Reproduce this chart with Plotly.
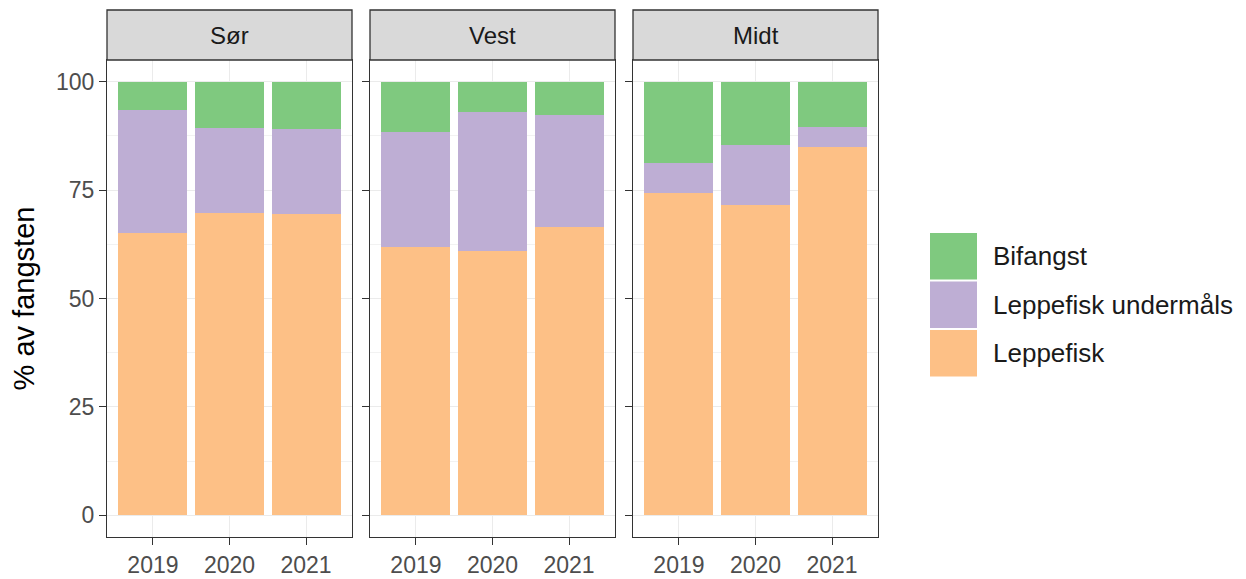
import plotly.graph_objects as go
from plotly.subplots import make_subplots

regions = ["Sør", "Vest", "Midt"]
years = ["2019", "2020", "2021"]
series = ["Leppefisk", "Leppefisk undermåls", "Bifangst"]
leppefisk = {"Sør": [65.0, 69.7, 69.5], "Vest": [61.9, 61.0, 66.5], "Midt": [74.3, 71.6, 85.0]}
undermals = {"Sør": [28.5, 19.7, 19.6], "Vest": [26.6, 32.0, 25.9], "Midt": [7.0, 13.9, 4.6]}
bifangst = {"Sør": [6.5, 10.6, 10.9], "Vest": [11.5, 7.0, 7.6], "Midt": [18.7, 14.5, 10.4]}
colors = {"Leppefisk": "#fdc086", "Leppefisk undermåls": "#beaed4", "Bifangst": "#7fc97f"}
data = {"Leppefisk": leppefisk, "Leppefisk undermåls": undermals, "Bifangst": bifangst}
y_ticks = [0, 25, 50, 75, 100]

# page body has an 8px margin; figure coordinates = screen - 8
OFF = 8
W, H = 1246 - OFF, 579 - OFF
ml, mt = 107 - OFF, 60 - OFF
mr = W - (878 - OFF)
mb = H - (537 - OFF)
PW, PH = W - ml - mr, H - mt - mb
FONT = "Liberation Sans"


def px(x):
    return (x - OFF - ml) / PW


def py(y):
    return (H - mb - (y - OFF)) / PH


fig = make_subplots(rows=1, cols=3, shared_yaxes=True, horizontal_spacing=0.0)

gap = 18 / PW
panel_w = (1 - 2 * gap) / 3
for i in range(3):
    x0 = i * (panel_w + gap)
    fig.layout[f"xaxis{'' if i == 0 else i + 1}"].domain = [x0, x0 + panel_w]

for i, reg in enumerate(regions):
    for s in series:
        fig.add_trace(go.Bar(
            x=years, y=data[s][reg], name=s, marker=dict(color=colors[s], line=dict(width=0)),
            width=0.9, showlegend=False, legendgroup=s,
        ), row=1, col=i + 1)

axis_common = dict(showline=True, linecolor="#333333", linewidth=1.3, mirror=True,
                   gridcolor="#ebebeb", gridwidth=1, ticks="outside", ticklen=7,
                   tickcolor="#333333", tickfont=dict(size=23, color="#4d4d4d", family=FONT),
                   zeroline=False, automargin=False)
for i in range(3):
    fig.update_xaxes(row=1, col=i + 1, type="category", range=[-0.6, 2.6], **axis_common)
    fig.update_yaxes(row=1, col=i + 1, range=[-5, 105], tickvals=y_ticks,
                     minor=dict(dtick=12.5, tick0=0, showgrid=True, gridcolor="#f2f2f2", gridwidth=0.7, ticks=""),
                     **axis_common)
fig.update_yaxes(row=1, col=1, title=dict(text="% av fangsten", font=dict(size=29, color="black", family=FONT), standoff=13))

strip_top = 10
for i, reg in enumerate(regions):
    x0 = i * (panel_w + gap)
    fig.add_shape(type="rect", xref="paper", yref="paper", x0=x0, x1=x0 + panel_w, y0=1.0, y1=py(strip_top),
                  fillcolor="#d9d9d9", line=dict(color="#333333", width=1.3), layer="above")
    fig.add_annotation(xref="paper", yref="paper", x=x0 + panel_w / 2, y=(1 + py(strip_top)) / 2, text=reg,
                       showarrow=False, font=dict(size=24, color="#1a1a1a", family=FONT),
                       xanchor="center", yanchor="middle")

# legend (ggplot-style large keys)
legend_order = ["Bifangst", "Leppefisk undermåls", "Leppefisk"]
key_top, key_h, key_x0, key_x1 = 232, 48.5, 930, 977
for j, s in enumerate(legend_order):
    y0 = key_top + j * key_h
    fig.add_shape(type="rect", xref="paper", yref="paper", x0=px(key_x0), x1=px(key_x1),
                  y0=py(y0 + 1), y1=py(y0 + key_h - 1), fillcolor=colors[s], line=dict(width=0))
    fig.add_annotation(xref="paper", yref="paper", x=px(991), y=py(y0 + key_h / 2), text=s,
                       showarrow=False, xanchor="left", yanchor="middle",
                       font=dict(size=26, color="#1a1a1a", family=FONT))

fig.update_layout(
    width=W, height=H, barmode="stack", bargap=0.1,
    plot_bgcolor="white", paper_bgcolor="white",
    margin=dict(l=ml, r=mr, t=mt, b=mb, autoexpand=False),
    showlegend=False,
    font=dict(family=FONT),
)
fig.write_html("out.html")
